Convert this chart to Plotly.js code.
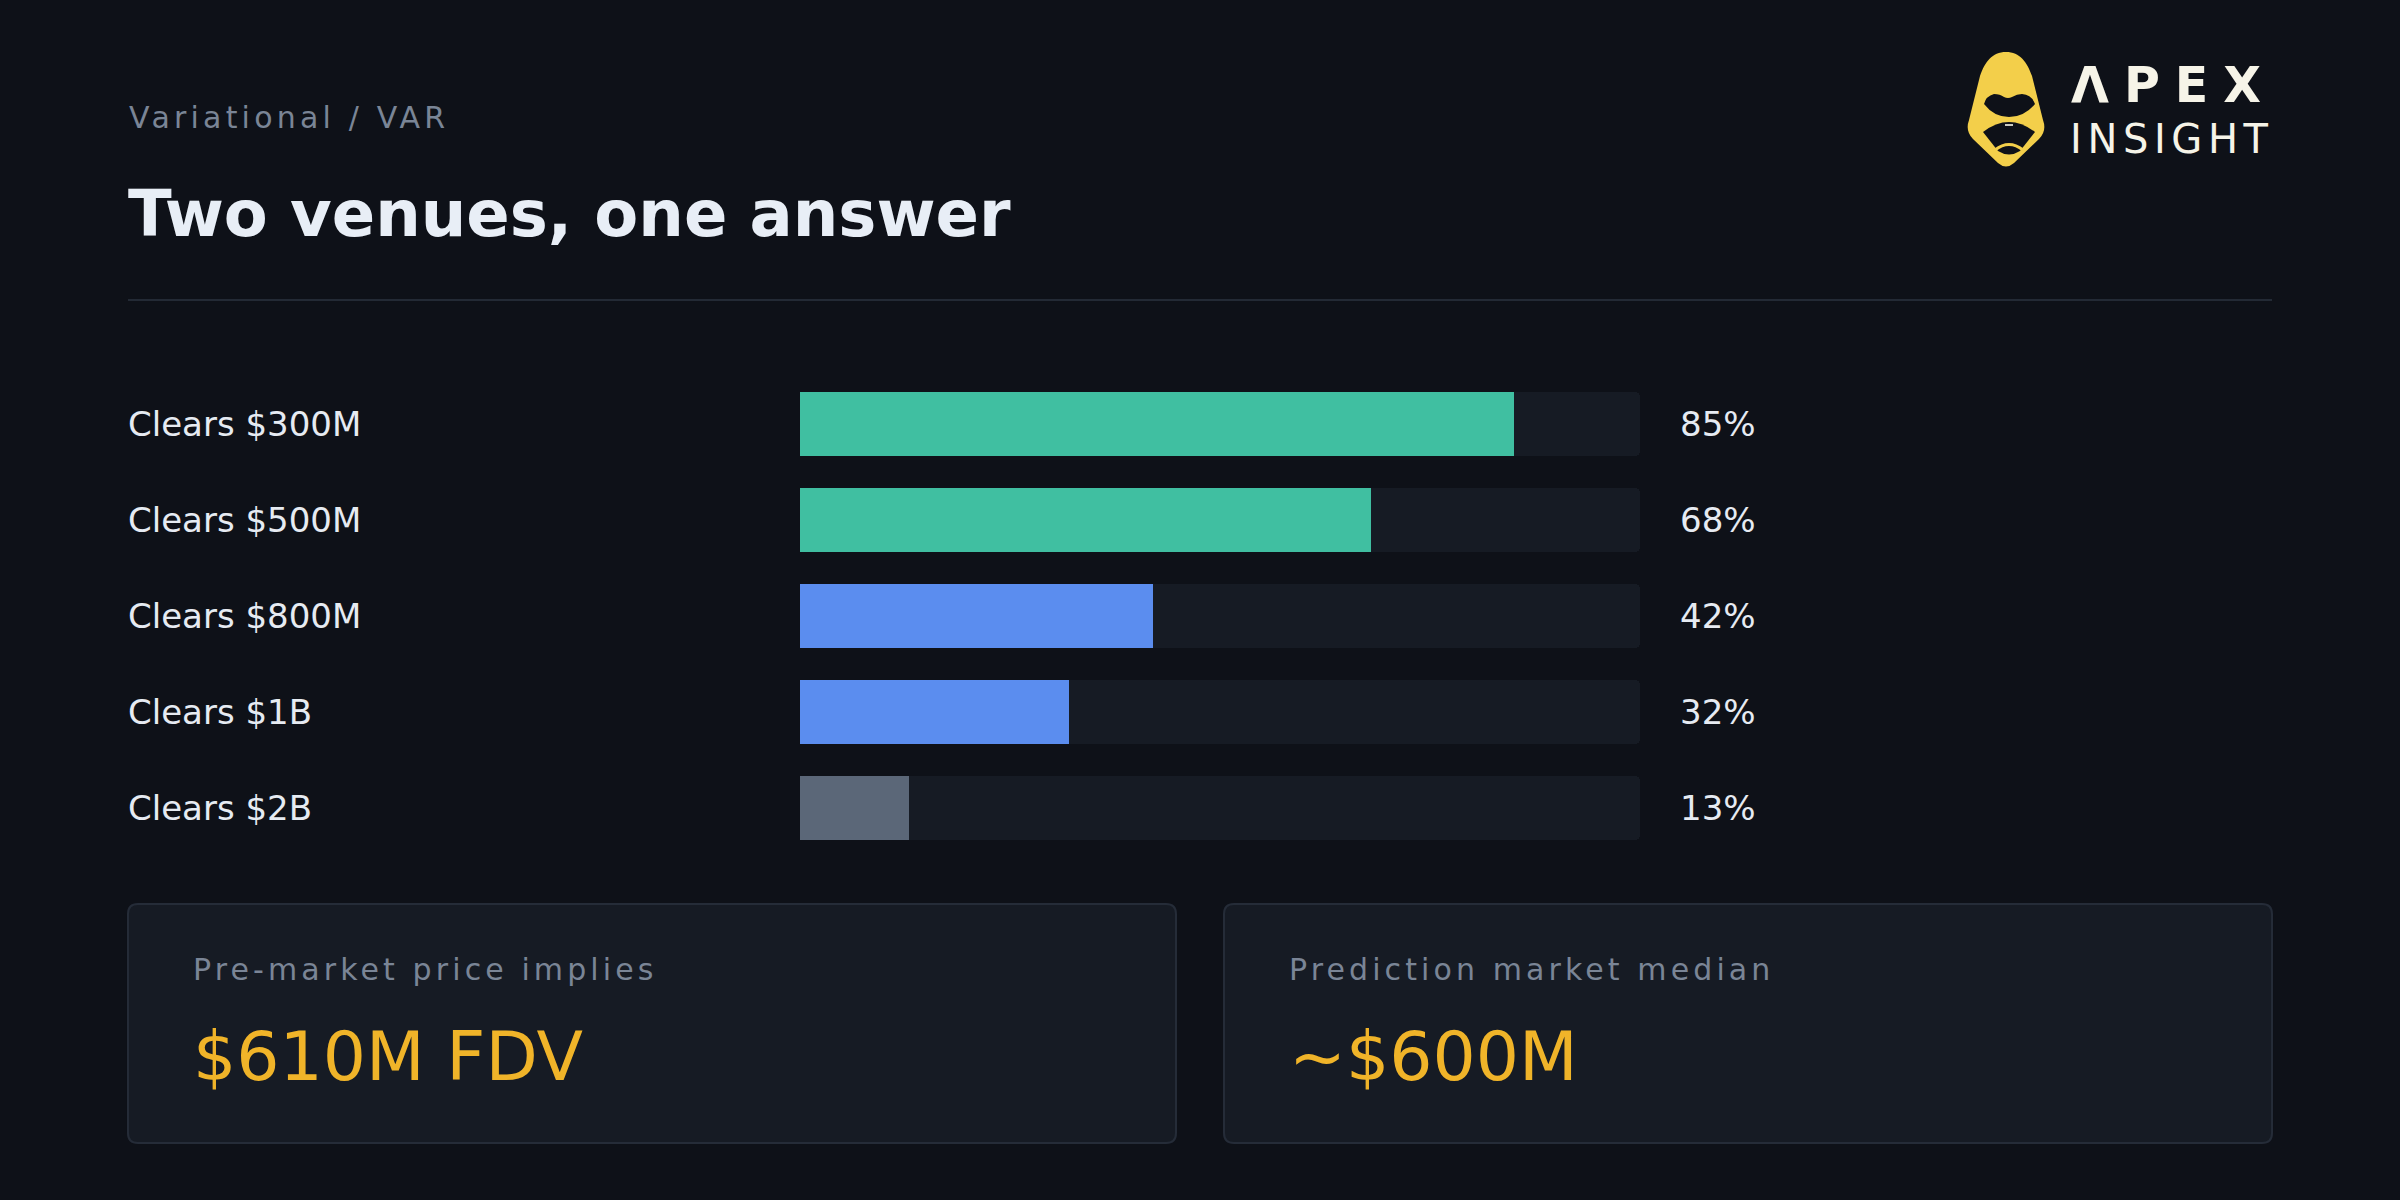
<!DOCTYPE html>
<html>
<head>
<meta charset="utf-8">
<script src="https://cdn.plot.ly/plotly-3.0.1.min.js"></script>
<style>
  html, body { margin: 0; padding: 0; background: #0e1118; }
  #chart { width: 2400px; height: 1200px; }
</style>
</head>
<body>
<div id="chart"></div>
<script>
// ---------- data ----------
const categories = ['Clears $300M', 'Clears $500M', 'Clears $800M', 'Clears $1B', 'Clears $2B'];
const probabilities = [85, 68, 42, 32, 13];
const barColors = ['#40bfa1', '#40bfa1', '#5b8def', '#5b8def', '#5b6778'];
const scaleMax = 100;

const eyebrow = 'Variational / VAR';
const headline = 'Two venues, one answer';
const cardLabels = ['Pre-market price implies', 'Prediction market median'];
const cardValues = ['$610M FDV', '~$600M'];
const logoWord = 'ΛPEX';
const logoSub = 'INSIGHT';

// ---------- helpers (pixel -> paper) ----------
const W = 2400, H = 1200;
const X = v => (v / W).toFixed(5);
const Y = v => (1 - v / H).toFixed(5);
function pathFrom(cmds) {
  return cmds.map(c => {
    const op = c[0];
    const nums = c.slice(1);
    const pts = [];
    for (let i = 0; i < nums.length; i += 2) pts.push(X(nums[i]) + ',' + Y(nums[i + 1]));
    return op + pts.join(' ');
  }).join(' ') + ' Z';
}
function roundRect(x0, y0, x1, y1, r) {
  return pathFrom([
    ['M', x0 + r, y0], ['L', x1 - r, y0], ['Q', x1, y0, x1, y0 + r],
    ['L', x1, y1 - r], ['Q', x1, y1, x1 - r, y1], ['L', x0 + r, y1],
    ['Q', x0, y1, x0, y1 - r], ['L', x0, y0 + r], ['Q', x0, y0, x0 + r, y0]
  ]);
}

const FONT = 'DejaVu Sans, Verdana, sans-serif';
const BG = '#0e1118';
const TRACK = '#161b24';
const LOGO_Y = '#f3cf4a';

// ---------- traces ----------
const trackTrace = {
  type: 'bar', orientation: 'h',
  y: categories, x: categories.map(() => scaleMax),
  width: 0.667,
  marker: { color: TRACK, cornerradius: 5, line: { width: 0 } },
  hoverinfo: 'skip', showlegend: false
};
const valueTrace = {
  type: 'bar', orientation: 'h',
  y: categories, x: probabilities,
  width: 0.667,
  marker: { color: barColors, cornerradius: 5, line: { width: 0 } },
  hoverinfo: 'skip', showlegend: false
};

// ---------- annotations ----------
const annotations = [];
function spaced(t, s) { return '<span style="letter-spacing:' + s + 'px">' + t + '</span>'; }
function ann(text, xpx, ypx, size, color, extra) {
  return Object.assign({
    text: text, xref: 'paper', yref: 'paper',
    x: xpx / W, y: 1 - ypx / H, xanchor: 'left', yanchor: 'middle', align: 'left',
    showarrow: false, borderpad: 0,
    font: { family: FONT, size: size, color: color }
  }, extra || {});
}
annotations.push(ann(spaced(eyebrow, 4.2), 128, 117.6, 30, '#7a8596'));
annotations.push(ann('<b>' + headline + '</b>', 127, 214, 64, '#e8eef6'));
annotations.push(ann(spaced(cardLabels[0], 4.1), 192, 969.6, 30, '#7a8596'));
annotations.push(ann(spaced(cardLabels[1], 4.1), 1288, 969.6, 30, '#7a8596'));
annotations.push(ann(cardValues[0], 192, 1056.5, 68, '#f0b429'));
annotations.push(ann(cardValues[1], 1288, 1056.5, 68, '#f0b429'));
annotations.push(ann(spaced('<b>' + logoWord + '</b>', 15), 2070, 86, 49, '#f6f4e8'));
annotations.push(ann(spaced(logoSub, 5.6), 2069, 138.5, 40, '#f6f4e8'));

categories.forEach((c, i) => {
  annotations.push({
    text: c, xref: 'paper', yref: 'y', x: 127 / W, y: c,
    xanchor: 'left', yanchor: 'middle', align: 'left', showarrow: false, borderpad: 0,
    font: { family: FONT, size: 34, color: '#e6ebf2' }
  });
  annotations.push({
    text: probabilities[i] + '%', xref: 'paper', yref: 'y', x: 1679 / W, y: c,
    xanchor: 'left', yanchor: 'middle', align: 'left', showarrow: false, borderpad: 0,
    font: { family: FONT, size: 34, color: '#e6ebf2' }
  });
});

// ---------- shapes ----------
const shapes = [
  // divider
  { type: 'line', xref: 'paper', yref: 'paper', x0: 128 / W, x1: 2272 / W, y0: 1 - 300 / H, y1: 1 - 300 / H,
    line: { color: '#232a35', width: 2 } },
  // cards
  { type: 'path', xref: 'paper', yref: 'paper', path: roundRect(128, 904, 1176, 1143, 10),
    fillcolor: '#161b24', line: { color: '#252c38', width: 2 }, layer: 'below' },
  { type: 'path', xref: 'paper', yref: 'paper', path: roundRect(1224, 904, 2272, 1143, 10),
    fillcolor: '#161b24', line: { color: '#252c38', width: 2 }, layer: 'below' },
  // logo shield
  { type: 'path', xref: 'paper', yref: 'paper', fillcolor: LOGO_Y, line: { width: 0 },
    path: pathFrom([
      ['M', 2006, 52], ['C', 2020, 52, 2027, 62, 2032, 76], ['L', 2043, 120],
      ['Q', 2047, 131, 2039, 139], ['L', 2014, 163], ['Q', 2006, 170, 1998, 163],
      ['L', 1973, 139], ['Q', 1965, 131, 1969, 120], ['L', 1980, 76],
      ['C', 1985, 62, 1992, 52, 2006, 52]
    ]) },
  // upper cutout
  { type: 'path', xref: 'paper', yref: 'paper', fillcolor: BG, line: { width: 0 },
    path: pathFrom([
      ['M', 1984, 104], ['Q', 1986, 96, 1994, 94], ['Q', 2000, 94, 2004, 97],
      ['Q', 2008, 99, 2012, 97], ['Q', 2017, 94, 2022, 94], ['Q', 2032, 95, 2035, 104],
      ['Q', 2024, 117, 2009, 117], ['Q', 1994, 117, 1984, 104]
    ]) },
  // lower cutout
  { type: 'path', xref: 'paper', yref: 'paper', fillcolor: BG, line: { width: 0 },
    path: pathFrom([
      ['M', 1983, 132], ['Q', 1996, 122, 2009, 122], ['Q', 2022, 122, 2035, 132],
      ['L', 2020, 151], ['Q', 2009, 158, 1998, 151]
    ]) },
  // chin arc
  { type: 'path', xref: 'paper', yref: 'paper', fillcolor: 'rgba(0,0,0,0)',
    line: { color: LOGO_Y, width: 3 },
    path: pathFrom([['M', 1995, 150], ['Q', 2009, 139, 2023, 150], ['Q', 2009, 139, 1995, 150]]) },
  // small highlight
  { type: 'line', xref: 'paper', yref: 'paper', x0: 2005 / W, x1: 2013 / W, y0: 1 - 125 / H, y1: 1 - 125 / H,
    line: { color: '#c9c9c0', width: 2 } }
];

const layout = {
  width: W, height: H,
  margin: { l: 0, r: 0, t: 0, b: 0, pad: 0 },
  paper_bgcolor: BG, plot_bgcolor: 'rgba(0,0,0,0)',
  barmode: 'overlay', bargap: 0,
  showlegend: false,
  xaxis: { domain: [800 / W, 1640 / W], range: [0, scaleMax], visible: false, fixedrange: true },
  yaxis: { domain: [1 - 856 / H, 1 - 376 / H], type: 'category', autorange: 'reversed',
           visible: false, fixedrange: true },
  annotations: annotations,
  shapes: shapes,
  font: { family: FONT }
};

Plotly.newPlot('chart', [trackTrace, valueTrace], layout, { displayModeBar: false, staticPlot: true });
</script>
</body>
</html>
